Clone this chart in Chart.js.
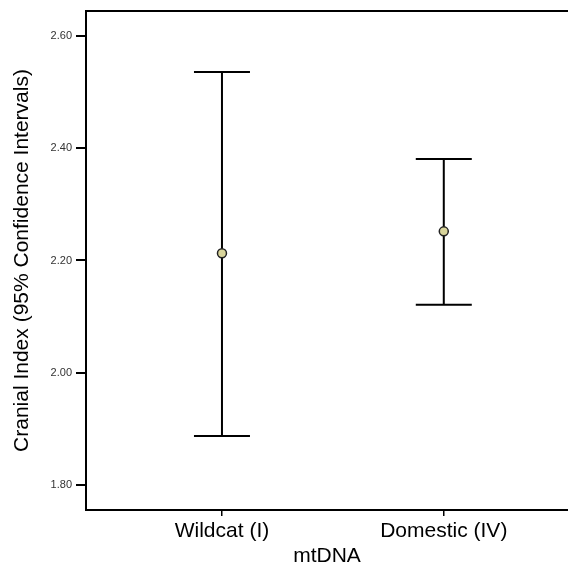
<!DOCTYPE html>
<html>
<head>
<meta charset="utf-8">
<script src="https://cdn.jsdelivr.net/npm/chart.js@4.4.0/dist/chart.umd.min.js"></script>
<style>
  html, body { margin: 0; padding: 0; background: #fff; }
  #wrap { width: 568px; height: 567px; }
</style>
</head>
<body>
<div id="wrap"><canvas id="chart"></canvas></div>
<script>
// values
const categories = ["Wildcat (I)", "Domestic (IV)"];
const means = [2.213, 2.252];
const lowerCI = [1.887, 2.121];
const upperCI = [2.536, 2.381];
const yTicks = [1.80, 2.00, 2.20, 2.40, 2.60];

const points = categories.map((c, i) => ({ x: i + 1, y: means[i] }));

// whiskers + caps, drawn through the scales
const errorBars = {
  id: 'errorBars',
  beforeDatasetsDraw(chart) {
    const { ctx, scales: { x, y } } = chart;
    ctx.save();
    ctx.strokeStyle = '#000';
    ctx.lineWidth = 2;
    categories.forEach((c, i) => {
      const px = x.getPixelForValue(i + 1);
      const top = y.getPixelForValue(upperCI[i]);
      const bot = y.getPixelForValue(lowerCI[i]);
      ctx.beginPath();
      ctx.moveTo(px, top); ctx.lineTo(px, bot);
      ctx.moveTo(px - 28, top); ctx.lineTo(px + 28, top);
      ctx.moveTo(px - 28, bot); ctx.lineTo(px + 28, bot);
      ctx.stroke();
    });
    ctx.restore();
  },
  afterDraw(chart) {
    // top edge of the frame
    const { ctx, chartArea } = chart;
    ctx.save();
    ctx.strokeStyle = '#000';
    ctx.lineWidth = 2;
    ctx.beginPath();
    ctx.moveTo(chartArea.left - 1, chartArea.top);
    ctx.lineTo(chartArea.right, chartArea.top);
    ctx.stroke();
    ctx.restore();
  }
};

new Chart(document.getElementById('chart'), {
  type: 'scatter',
  data: {
    datasets: [{
      data: points,
      pointRadius: 4.5,
      pointHoverRadius: 4.5,
      pointBackgroundColor: '#d9d59b',
      pointBorderColor: '#222',
      pointBorderWidth: 1.5,
      showLine: false
    }]
  },
  options: {
    responsive: true,
    maintainAspectRatio: false,
    animation: false,
    events: [],
    layout: { autoPadding: false, padding: { top: 11, right: 0, bottom: 0, left: 0 } },
    plugins: {
      legend: { display: false },
      tooltip: { enabled: false }
    },
    scales: {
      x: {
        type: 'linear',
        min: 0.387,
        max: 2.56,
        afterBuildTicks: (scale) => {
          scale.ticks = categories.map((c, i) => ({ value: i + 1 }));
        },
        afterFit: (scale) => {
          scale.height = 57;
          scale.paddingLeft = 0;
          scale.paddingRight = 0;
        },
        ticks: {
          callback: (v) => categories[v - 1],
          color: '#000',
          font: { family: 'Liberation Sans, Arial', size: 21 },
          padding: 3,
          maxRotation: 0,
          autoSkip: false
        },
        grid: {
          drawOnChartArea: false,
          drawTicks: true,
          tickLength: 6,
          color: '#000',
          lineWidth: 1.5
        },
        border: { display: true, color: '#000', width: 2 },
        title: {
          display: true,
          text: 'mtDNA',
          color: '#000',
          font: { family: 'Liberation Sans, Arial', size: 21, lineHeight: 1 },
          padding: { top: 0, bottom: 0 }
        }
      },
      y: {
        min: 1.755,
        max: 2.645,
        afterBuildTicks: (scale) => {
          scale.ticks = yTicks.map(v => ({ value: v }));
        },
        afterFit: (scale) => { scale.width = 86; },
        ticks: {
          callback: (v) => v.toFixed(2),
          color: '#333',
          font: { family: 'Liberation Sans, Arial', size: 11 },
          padding: 4
        },
        grid: {
          drawOnChartArea: false,
          drawTicks: true,
          tickLength: 10,
          color: '#000',
          lineWidth: 2
        },
        border: { display: true, color: '#000', width: 2 },
        title: {
          display: true,
          text: 'Cranial Index (95% Confidence Intervals)',
          color: '#000',
          font: { family: 'Liberation Sans, Arial', size: 21 },
          padding: { top: 10, bottom: 0 }
        }
      }
    }
  },
  plugins: [errorBars]
});
</script>
</body>
</html>
